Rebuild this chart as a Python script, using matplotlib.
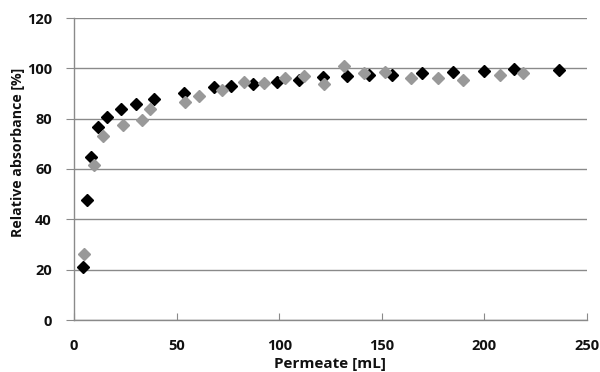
import matplotlib
matplotlib.use("Agg")
import matplotlib.pyplot as plt

# Series 1 (black)
x_black = [4.2, 6.2, 8.1, 11.9, 15.9, 22.9, 30.2, 39.0, 53.6, 68.2, 76.5, 87.4,
           98.8, 109.6, 121.5, 132.9, 143.9, 154.8, 169.7, 184.5, 199.8, 214.4, 236.4]
y_black = [21.2, 47.7, 64.9, 76.5, 80.6, 83.9, 85.8, 87.7, 90.1, 92.4, 92.8, 93.8,
           94.5, 95.4, 96.7, 97.0, 97.4, 97.4, 98.3, 98.5, 99.0, 99.7, 99.4]

# Series 2 (gray)
x_gray = [4.9, 9.7, 14.3, 23.7, 33.0, 37.0, 54.1, 61.1, 72.0, 83.0, 92.6, 102.7,
          112.2, 121.8, 131.7, 141.5, 151.6, 164.1, 177.2, 189.7, 207.6, 218.7]
y_gray = [26.1, 61.6, 73.2, 77.3, 79.5, 83.8, 86.8, 89.1, 91.3, 94.4, 94.1, 96.1,
          97.1, 93.7, 101.1, 98.1, 98.6, 96.0, 96.0, 95.4, 97.5, 98.3]

x_ticks = [0, 50, 100, 150, 200, 250]
y_ticks = [0, 20, 40, 60, 80, 100, 120]

FONT = "Open Sans"
fig = plt.figure(figsize=(6.0, 3.72), dpi=100)
ax = fig.add_axes([74/600, 1-320/372, (587-74)/600, (320-18)/372])

ax.plot(x_black, y_black, linestyle="none", marker="D", markersize=5.8,
        color="#000000", zorder=3, clip_on=False)
ax.plot(x_gray, y_gray, linestyle="none", marker="D", markersize=5.8,
        color="#999999", zorder=4, clip_on=False)

ax.set_xlim(0, 250)
ax.set_ylim(0, 120)
ax.set_xticks(x_ticks)
ax.set_yticks(y_ticks)
ax.grid(axis="y", color="#8a8a8a", linewidth=1.0, zorder=0)
ax.set_axisbelow(True)
for s in ["top", "right"]:
    ax.spines[s].set_visible(False)
for s in ["left", "bottom"]:
    ax.spines[s].set_color("#8a8a8a")
    ax.spines[s].set_linewidth(1.0)

ax.tick_params(axis="x", direction="in", length=5, color="#8a8a8a", pad=14)
ax.tick_params(axis="y", direction="out", length=6, color="#8a8a8a", pad=10)
for lab in ax.get_xticklabels() + ax.get_yticklabels():
    lab.set_fontfamily(FONT)
    lab.set_fontweight("bold")
    lab.set_fontsize(10.5)
    lab.set_color("#111111")

fig.text(330/600, 1-364/372, "Permeate [mL]", ha="center", va="center",
         fontfamily=FONT, fontweight="bold", fontsize=11, color="#111111")
fig.text(18/600, 1-152/372, "Relative absorbance [%]", ha="center", va="center",
         rotation=90, fontfamily=FONT, fontweight="bold", fontsize=10.2, color="#111111")

fig.savefig("out.png", dpi=100)
